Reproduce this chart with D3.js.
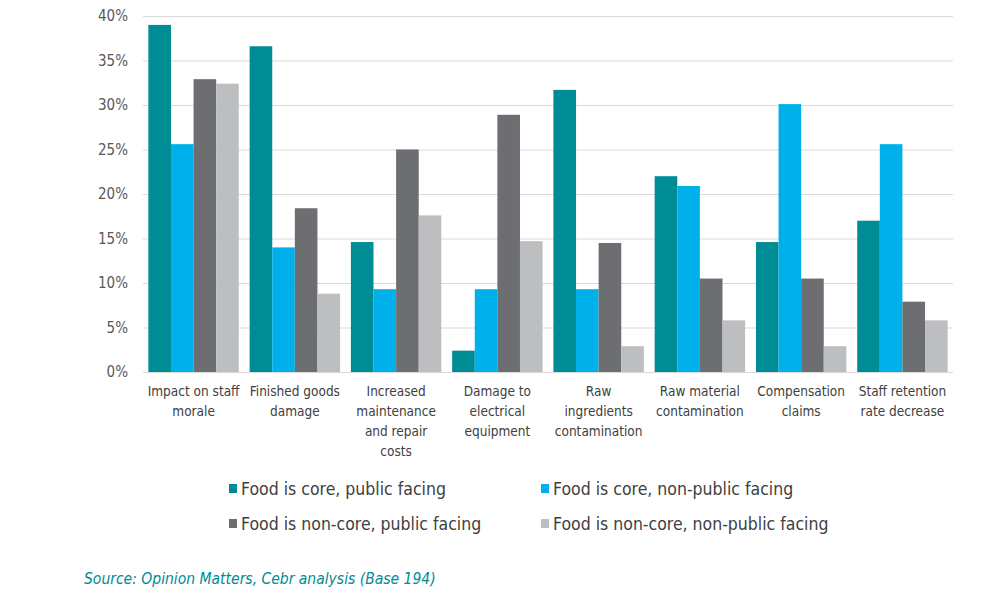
<!DOCTYPE html>
<html>
<head>
<meta charset="utf-8">
<script src="https://cdn.jsdelivr.net/npm/d3@7"></script>
<style>
  body { margin: 0; background: #fff; }
  svg { display: block; }
  text { font-family: "Liberation Sans Narrow", "DejaVu Sans Condensed", "Open Sans", sans-serif; }
</style>
</head>
<body>
<div id="chart"></div>
<script>
// chart data
const categories = [
  ['Impact on staff', 'morale'],
  ['Finished goods', 'damage'],
  ['Increased', 'maintenance', 'and repair', 'costs'],
  ['Damage to', 'electrical', 'equipment'],
  ['Raw', 'ingredients', 'contamination'],
  ['Raw material', 'contamination'],
  ['Compensation', 'claims'],
  ['Staff retention', 'rate decrease']
];
const seriesNames = [
  'Food is core, public facing',
  'Food is core, non-public facing',
  'Food is non-core, public facing',
  'Food is non-core, non-public facing'
];
const corepublic = [39.0, 36.6, 14.6, 2.4, 31.7, 22.0, 14.6, 17.0];
const coreNonPublic = [25.6, 14.0, 9.3, 9.3, 9.3, 20.9, 30.1, 25.6];
const nonCorePublic = [32.9, 18.4, 25.0, 28.9, 14.5, 10.5, 10.5, 7.9];
const nonCoreNonPublic = [32.4, 8.8, 17.6, 14.7, 2.9, 5.8, 2.9, 5.8];
const yTicks = [0, 5, 10, 15, 20, 25, 30, 35, 40];
const sourceText = 'Source: Opinion Matters, Cebr analysis (Base 194)';

const seriesColors = ['#008c95', '#00b0ea', '#6d6e71', '#bdbec0'];
const allSeries = [corepublic, coreNonPublic, nonCorePublic, nonCoreNonPublic];

const width = 1000, height = 603;
const plot = { left: 143, right: 953, top: 16, bottom: 372 };

const svg = d3.select('#chart').append('svg')
  .attr('width', width)
  .attr('height', height);

const x = d3.scaleBand()
  .domain(d3.range(categories.length))
  .range([plot.left, plot.right])
  .paddingInner(0.107)
  .paddingOuter(0.053);

const xInner = d3.scaleBand()
  .domain(d3.range(allSeries.length))
  .range([0, x.bandwidth()]);

const y = d3.scaleLinear()
  .domain([0, 40])
  .range([plot.bottom, plot.top]);

// gridlines
svg.append('g')
  .selectAll('line')
  .data(yTicks)
  .join('line')
  .attr('x1', plot.left)
  .attr('x2', plot.right)
  .attr('y1', d => y(d) + 0.5)
  .attr('y2', d => y(d) + 0.5)
  .attr('stroke', '#d9d9d9')
  .attr('stroke-width', 1);

// y tick labels
svg.append('g')
  .selectAll('text')
  .data(yTicks)
  .join('text')
  .attr('x', 128)
  .attr('y', d => y(d))
  .attr('dy', '0.35em')
  .attr('text-anchor', 'end')
  .attr('font-size', 15)
  .attr('fill', '#595959')
  .text(d => d + '%');

// bars
const groups = svg.append('g')
  .selectAll('g')
  .data(categories.map((c, i) => i))
  .join('g')
  .attr('transform', i => `translate(${x(i)},0)`);

groups.selectAll('rect')
  .data(i => allSeries.map((s, k) => ({ k: k, v: s[i] })))
  .join('rect')
  .attr('x', d => xInner(d.k))
  .attr('width', xInner.bandwidth())
  .attr('y', d => y(d.v))
  .attr('height', d => y(0) - y(d.v))
  .attr('fill', d => seriesColors[d.k]);

// category labels
const catLabels = svg.append('g')
  .selectAll('text')
  .data(categories)
  .join('text')
  .attr('text-anchor', 'middle')
  .attr('font-size', 13.5)
  .attr('fill', '#404040')
  .attr('transform', (d, i) => `translate(${x(i) + x.bandwidth() / 2},396)`);

catLabels.selectAll('tspan')
  .data(d => d)
  .join('tspan')
  .attr('x', 0)
  .attr('y', (d, j) => j * 20)
  .text(d => d);

// legend
const legendPos = [[229, 489], [541, 489], [229, 524], [541, 524]];
const legend = svg.append('g')
  .selectAll('g')
  .data(seriesNames)
  .join('g')
  .attr('transform', (d, i) => `translate(${legendPos[i][0]},${legendPos[i][1]})`);

legend.append('rect')
  .attr('x', 0)
  .attr('y', -5)
  .attr('width', 8)
  .attr('height', 9)
  .attr('fill', (d, i) => seriesColors[i]);

legend.append('text')
  .attr('x', 12)
  .attr('y', 0)
  .attr('dy', '0.35em')
  .attr('font-size', 17.5)
  .attr('fill', '#404040')
  .text(d => d);

// source
svg.append('text')
  .attr('x', 84)
  .attr('y', 584)
  .attr('font-size', 15.5)
  .attr('font-style', 'italic')
  .attr('fill', '#008c95')
  .text(sourceText);
</script>
</body>
</html>
